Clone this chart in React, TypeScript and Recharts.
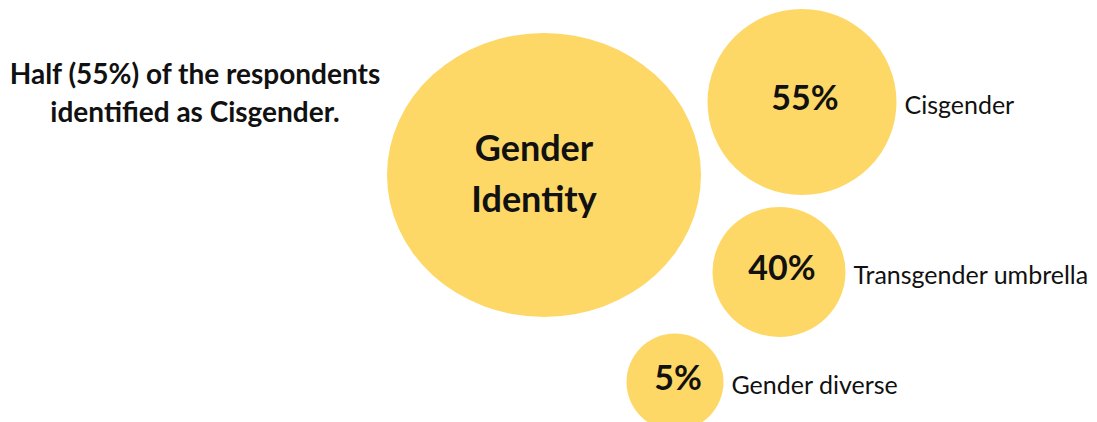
import React from "react";
import { ScatterChart, Scatter, XAxis, YAxis } from "recharts";

const categories = ["Gender Identity", "Cisgender", "Transgender umbrella", "Gender diverse"];
const shares = ["", "55%", "40%", "5%"];
const bubbleX = [544, 802, 779, 675];
const bubbleY = [175, 102, 272, 382];
const bubbleW = [314, 189, 133, 97];
const bubbleH = [284, 186, 130, 97];
const titleLines = ["Half (55%) of the respondents", "identified as Cisgender."];

const data = categories.map((c, i) => ({
  name: c,
  share: shares[i],
  x: bubbleX[i],
  y: bubbleY[i],
  w: bubbleW[i],
  h: bubbleH[i],
  hub: i === 0,
}));

const FILL = "#FDD867";
const FONT = "Lato, 'Open Sans', sans-serif";

const Bubble = (props: any) => {
  const { cx, cy, payload } = props;
  const rx = payload.w / 2;
  const ry = payload.h / 2;
  if (payload.hub) {
    const words = payload.name.split(" ");
    return (
      <g>
        <ellipse cx={cx} cy={cy} rx={rx} ry={ry} fill={FILL} />
        <text x={cx - 10} y={cy - 14} textAnchor="middle" fontFamily={FONT} fontWeight={700} fontSize={36} fill="#111">
          {words[0]}
        </text>
        <text x={cx - 10} y={cy + 37} textAnchor="middle" fontFamily={FONT} fontWeight={700} fontSize={36} fill="#111">
          {words[1]}
        </text>
      </g>
    );
  }
  return (
    <g>
      <ellipse cx={cx} cy={cy} rx={rx} ry={ry} fill={FILL} />
      <text x={cx + 3} y={cy + 8} textAnchor="middle" fontFamily={FONT} fontWeight={700} fontSize={34} fill="#111">
        {payload.share}
      </text>
      <text x={cx + rx + 8} y={cy + 12} textAnchor="start" fontFamily={FONT} fontSize={25} fill="#111">
        {payload.name}
      </text>
    </g>
  );
};

export default function App() {
  return (
    <div style={{ position: "absolute", left: 0, top: 0, width: 1097, height: 422, background: "#fff" }}>
      <ScatterChart width={1097} height={422} margin={{ top: 0, right: 0, bottom: 0, left: 0 }}>
        <XAxis type="number" dataKey="x" domain={[0, 1097]} hide />
        <YAxis type="number" dataKey="y" domain={[0, 422]} reversed hide />
        <Scatter data={data} shape={<Bubble />} isAnimationActive={false} />
      </ScatterChart>
      <div
        style={{
          position: "absolute",
          left: 0,
          top: 54,
          width: 390,
          textAlign: "center",
          fontFamily: FONT,
          fontWeight: 700,
          fontSize: 28,
          lineHeight: "38px",
          color: "#111",
          whiteSpace: "nowrap",
        }}
      >
        {titleLines.map((t) => (
          <div key={t}>{t}</div>
        ))}
      </div>
    </div>
  );
}
